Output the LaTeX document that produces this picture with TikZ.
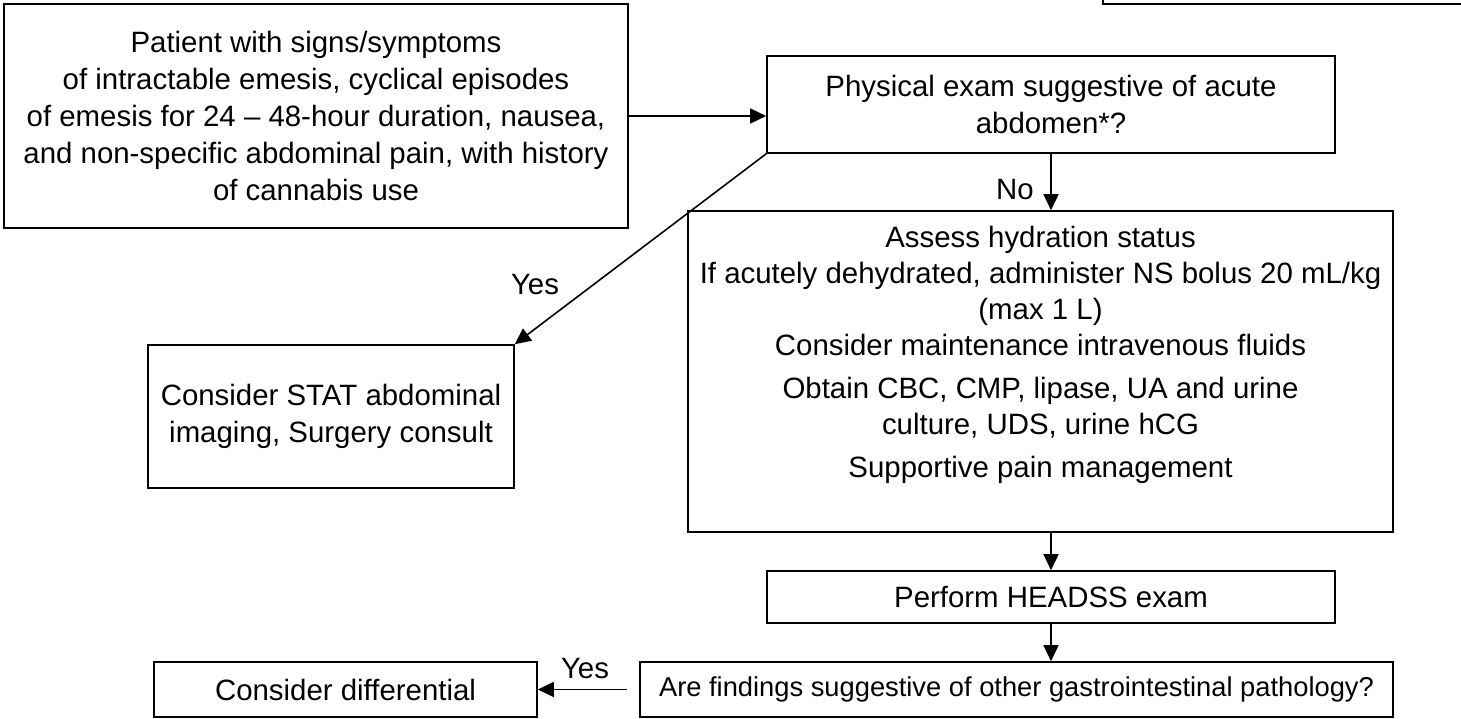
\documentclass[tikz,border=0pt]{standalone}
\usepackage{fontspec}
\setmainfont{Liberation Sans}
\usetikzlibrary{arrows.meta,calc}
\begin{document}
\begin{tikzpicture}[x=1pt,y=-1pt,
  box/.style={draw=black, line width=1.6pt, align=center, inner sep=0pt,
    font=\fontsize{29.4}{37}\selectfont},
  arr/.style={line width=1.6pt, -{Triangle[length=16pt,width=15pt]}},
  lbl/.style={font=\fontsize{29.4}{37}\selectfont, inner sep=0pt}]
\useasboundingbox (0,0) rectangle (1461,719);
% partial box at the top right
\draw[line width=1.6pt] (1103,0) -- (1103,4) -- (1461,4);

\node[box, minimum width=624pt, minimum height=224pt] (b1) at (316,116)
  {Patient with signs/symptoms\\of intractable emesis, cyclical episodes\\of emesis for 24 – 48-hour duration, nausea,\\and non-specific abdominal pain, with history\\of cannabis use};
\node[box, minimum width=568pt, minimum height=97pt] (b2) at (1051,104.5)
  {Physical exam suggestive of acute\\abdomen*?};
\node[box, minimum width=705pt, minimum height=321pt] (b3) at (1040.5,371.5) {};
\node[lbl, align=center, font=\fontsize{29.4}{36}\selectfont] (t3) at (1040.5,355)
  {Assess hydration status\\If acutely dehydrated, administer NS bolus 20 mL/kg\\(max 1 L)\\Consider maintenance intravenous fluids\\[7pt]Obtain CBC, CMP, lipase, UA and urine\\culture, UDS, urine hCG\\[7pt]Supportive pain management};
\node[box, minimum width=366pt, minimum height=143pt] (b4) at (331,416.5)
  {Consider STAT abdominal\\imaging, Surgery consult};
\node[box, minimum width=568pt, minimum height=52pt] (b5) at (1051,597)
  {Perform HEADSS exam};
\node[box, minimum width=753pt, minimum height=55pt, font=\fontsize{27.3}{34}\selectfont] (b6) at (1016.5,689.5)
  {Are findings suggestive of other gastrointestinal pathology?};
\node[box, minimum width=383pt, minimum height=55pt] (b7) at (345.5,689.5)
  {Consider differential};

\draw[arr] (b1.east |- 0,116) -- (b2.west |- 0,116);
\draw[arr] (b2.south) -- (b2.south |- b3.north);
\node[lbl] (no) at (1015,190) {No};
\draw[arr] (b2.south west) -- (b4.north east);
\node[lbl] (yes1) at (535,285) {Yes};
\draw[arr] (b5.north |- b3.south) -- (b5.north);
\draw[arr] (b5.south) -- (b5.south |- b6.north);
\draw[arr, shorten <=12pt] (b6.west) -- (b7.east);
\node[lbl] (yes2) at (585,669) {Yes};
\end{tikzpicture}
\end{document}
